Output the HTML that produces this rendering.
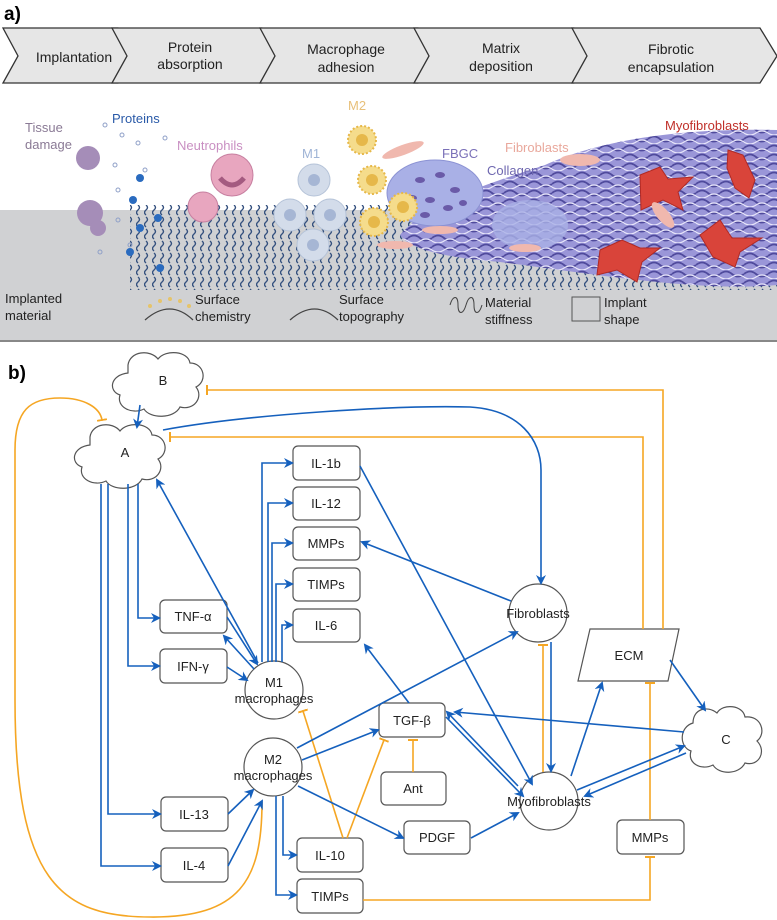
<!DOCTYPE html>
<html><head><meta charset="utf-8"><style>
html,body{margin:0;padding:0;background:#fff;}
svg{display:block;font-family:"Liberation Sans",sans-serif;}
</style></head><body>
<svg width="777" height="920" viewBox="0 0 777 920" xmlns="http://www.w3.org/2000/svg">
<defs>
<marker id="ab" markerWidth="10" markerHeight="10" refX="8" refY="5" orient="auto" markerUnits="userSpaceOnUse"><path d="M0,0 L10,5 L0,10 L3,5 z" fill="#1560bd"/></marker>
<marker id="bar" markerWidth="2" markerHeight="10" refX="1" refY="5" orient="auto" markerUnits="userSpaceOnUse"><rect x="0" y="0" width="2" height="10" fill="#f5a623"/></marker>
<pattern id="sq" width="8" height="12" patternUnits="userSpaceOnUse"><path d="M2,1 q3,2.5 0,5 q-3,2.5 0,5" stroke="#34507e" stroke-width="1.4" fill="none"/></pattern>
<pattern id="fib" width="24" height="9" patternUnits="userSpaceOnUse"><path d="M0,4 q6,-5 12,0 t12,0" stroke="#4f4a9c" stroke-width="1.8" fill="none"/><path d="M0,7 q6,4 12,0 t12,0" stroke="#e8e6fa" stroke-width="1.2" fill="none"/></pattern>
</defs>

<!-- PART A -->
<text x="4" y="20" font-size="19" font-weight="bold">a)</text>
<g fill="#e6e6e6" stroke="#333" stroke-width="1.3">
<polygon points="3,28 118,28 133,56 118,83 3,83 18,56"/>
<polygon points="112,28 262,28 280,56 262,83 112,83 127,56"/>
<polygon points="260,28 418,28 435,56 418,83 260,83 275,56"/>
<polygon points="414,28 574,28 592,56 574,83 414,83 429,56"/>
<polygon points="572,28 760,28 777,56 760,83 572,83 587,56"/>
</g>
<g font-size="14" fill="#222" text-anchor="middle">
<text x="74" y="62">Implantation</text>
<text x="190" y="52">Protein</text><text x="190" y="69">absorption</text>
<text x="346" y="54">Macrophage</text><text x="346" y="72">adhesion</text>
<text x="501" y="53">Matrix</text><text x="501" y="71">deposition</text>
<text x="671" y="54">Fibrotic</text><text x="671" y="72">encapsulation</text>
</g>
<rect x="0" y="210" width="777" height="131" fill="#d0d1d3"/>
<rect x="0" y="340" width="777" height="2" fill="#888"/>
<rect x="130" y="205" width="647" height="85" fill="url(#sq)"/>
<path d="M400,235 C430,200 500,180 545,165 C600,140 680,128 777,130 L777,285 C700,292 600,275 500,262 C450,258 410,250 400,235 z" fill="#9a96d8"/>
<path d="M400,235 C430,200 500,180 545,165 C600,140 680,128 777,130 L777,285 C700,292 600,275 500,262 C450,258 410,250 400,235 z" fill="url(#fib)"/>
<ellipse cx="435" cy="193" rx="48" ry="33" fill="#a9b0e6" stroke="#8c93d4"/>
<g fill="#6a5aa8"><ellipse cx="420" cy="180" rx="5" ry="3"/><ellipse cx="440" cy="175" rx="5" ry="3"/><ellipse cx="455" cy="190" rx="5" ry="3"/><ellipse cx="430" cy="200" rx="5" ry="3"/><ellipse cx="448" cy="208" rx="5" ry="3"/><ellipse cx="412" cy="198" rx="5" ry="3"/><ellipse cx="425" cy="215" rx="5" ry="3"/><ellipse cx="463" cy="203" rx="4" ry="3"/></g>
<ellipse cx="530" cy="225" rx="38" ry="25" fill="#a9b0e6" opacity="0.8"/>
<g fill="#d9443a" stroke="#b02a25">
<path d="M640,175 l20,-8 l8,12 l25,-2 l-15,15 l5,18 l-20,-10 l-22,10 z"/>
<path d="M728,150 l15,5 l12,25 l-6,18 l-14,-10 l-8,-20 z"/>
<path d="M600,250 l22,-10 l18,8 l20,0 l-18,14 l-5,20 l-20,-12 l-20,5 z"/>
<path d="M700,235 l20,-15 l12,18 l30,0 l-22,14 l-5,15 l-22,-10 z"/>
</g>
<g fill="#f0b8ae"><ellipse cx="403" cy="150" rx="22" ry="5" transform="rotate(-20 403 150)"/><ellipse cx="580" cy="160" rx="20" ry="6"/><ellipse cx="663" cy="215" rx="16" ry="6" transform="rotate(50 663 215)"/><ellipse cx="395" cy="245" rx="18" ry="4"/><ellipse cx="525" cy="248" rx="16" ry="4"/><ellipse cx="440" cy="230" rx="18" ry="4"/></g>
<g fill="#f5dc8c" stroke="#e6b84a" stroke-width="2" stroke-dasharray="2 2">
<circle cx="362" cy="140" r="14"/><circle cx="372" cy="180" r="14"/><circle cx="374" cy="222" r="14"/><circle cx="403" cy="207" r="14"/>
</g>
<g fill="#e6b84a"><circle cx="362" cy="140" r="6"/><circle cx="372" cy="180" r="6"/><circle cx="374" cy="222" r="6"/><circle cx="403" cy="207" r="6"/></g>
<g fill="#d3dcea" stroke="#b5c3d8"><circle cx="314" cy="180" r="16"/><circle cx="290" cy="215" r="16"/><circle cx="330" cy="215" r="16"/><circle cx="313" cy="245" r="16"/></g>
<g fill="#a6b6d4"><circle cx="314" cy="180" r="6"/><circle cx="290" cy="215" r="6"/><circle cx="330" cy="215" r="6"/><circle cx="313" cy="245" r="6"/></g>
<circle cx="232" cy="175" r="21" fill="#e8a6bf" stroke="#c77fa0"/><circle cx="203" cy="207" r="15" fill="#e8a6bf" stroke="#c77fa0"/>
<path d="M220,178 q12,14 24,0" stroke="#a45a80" stroke-width="5" fill="none"/>
<g fill="#a58db8"><circle cx="88" cy="158" r="12"/><circle cx="90" cy="213" r="13"/><circle cx="98" cy="228" r="8"/></g>
<g fill="none" stroke="#8fa0c8"><circle cx="105" cy="125" r="2"/><circle cx="122" cy="135" r="2"/><circle cx="138" cy="143" r="2"/><circle cx="115" cy="165" r="2"/><circle cx="118" cy="190" r="2"/><circle cx="145" cy="170" r="2"/><circle cx="165" cy="138" r="2"/><circle cx="118" cy="220" r="2"/><circle cx="100" cy="252" r="2"/><circle cx="130" cy="245" r="2"/></g>
<g fill="#2a6bbf"><circle cx="140" cy="178" r="4"/><circle cx="133" cy="200" r="4"/><circle cx="158" cy="218" r="4"/><circle cx="140" cy="228" r="4"/><circle cx="130" cy="252" r="4"/><circle cx="160" cy="268" r="4"/></g>
<g font-size="13">
<text x="25" y="132" fill="#8a7a95">Tissue</text><text x="25" y="149" fill="#8a7a95">damage</text>
<text x="112" y="123" fill="#2a5aa8">Proteins</text>
<text x="177" y="150" fill="#c98fc2">Neutrophils</text>
<text x="302" y="158" fill="#9fb4d6">M1</text>
<text x="348" y="110" fill="#e8c07a">M2</text>
<text x="442" y="158" fill="#7a70b8">FBGC</text>
<text x="505" y="152" fill="#e9a89c">Fibroblasts</text>
<text x="487" y="175" fill="#6f68b0">Collagen</text>
<text x="665" y="130" fill="#c0302a">Myofibroblasts</text>
<g fill="#222"><text x="5" y="303">Implanted</text><text x="5" y="320">material</text>
<text x="195" y="304">Surface</text><text x="195" y="321">chemistry</text>
<text x="339" y="304">Surface</text><text x="339" y="321">topography</text>
<text x="485" y="307">Material</text><text x="485" y="324">stiffness</text>
<text x="604" y="307">Implant</text><text x="604" y="324">shape</text></g>
</g>
<path d="M145,320 q25,-22 48,0" stroke="#444" fill="none" stroke-width="1.3"/>
<g fill="#e6c46a"><circle cx="150" cy="306" r="2"/><circle cx="160" cy="301" r="2"/><circle cx="170" cy="299" r="2"/><circle cx="180" cy="301" r="2"/><circle cx="189" cy="306" r="2"/></g>
<path d="M290,320 q25,-22 48,0" stroke="#444" fill="none" stroke-width="1.3"/>
<path d="M450,305 c3,-10 8,-10 8,0 c0,10 5,10 8,0 c3,-10 8,-10 8,0 c0,10 5,10 8,0" stroke="#444" fill="none"/>
<rect x="572" y="297" width="28" height="24" fill="none" stroke="#555"/>

<!-- PART B -->
<text x="8" y="379" font-size="19" font-weight="bold">b)</text>
<g fill="#fff" stroke="#555" stroke-width="1.2">
<path d="M128,365 c2,-14 22,-16 30,-6 c8,-10 30,-8 32,4 c14,0 18,18 6,24 c8,10 -2,24 -16,20 c-6,12 -30,12 -36,2 c-12,6 -28,-2 -24,-14 c-12,-4 -10,-20 8,-22 z"/>
<path d="M90,437 c2,-14 22,-16 30,-6 c8,-10 30,-8 32,4 c14,0 18,18 6,24 c8,10 -2,24 -16,20 c-6,12 -30,12 -36,2 c-12,6 -28,-2 -24,-14 c-12,-4 -10,-20 8,-22 z"/>
<path d="M693,723 c0,-14 14,-18 24,-10 c6,-10 26,-8 28,4 c16,-2 22,16 12,24 c10,10 2,26 -12,22 c-6,12 -26,12 -32,2 c-12,6 -26,-2 -22,-14 c-12,-4 -12,-24 2,-28 z"/>
</g>
<g font-size="13" text-anchor="middle" fill="#222">
<text x="163" y="385">B</text><text x="125" y="457">A</text><text x="726" y="744">C</text>
</g>
<g fill="#fff" stroke="#555" stroke-width="1.2">
<rect x="293" y="446" width="67" height="34" rx="5"/>
<rect x="293" y="487" width="67" height="33" rx="5"/>
<rect x="293" y="527" width="67" height="33" rx="5"/>
<rect x="293" y="568" width="67" height="33" rx="5"/>
<rect x="293" y="609" width="67" height="33" rx="5"/>
<rect x="160" y="600" width="67" height="33" rx="5"/>
<rect x="160" y="649" width="67" height="34" rx="5"/>
<rect x="161" y="797" width="67" height="34" rx="5"/>
<rect x="161" y="848" width="67" height="34" rx="5"/>
<rect x="297" y="838" width="66" height="34" rx="5"/>
<rect x="297" y="879" width="66" height="34" rx="5"/>
<rect x="379" y="703" width="66" height="34" rx="5"/>
<rect x="381" y="772" width="65" height="33" rx="5"/>
<rect x="404" y="821" width="66" height="33" rx="5"/>
<rect x="617" y="820" width="67" height="34" rx="5"/>
<polygon points="590,629 679,629 668,681 578,681"/>
<circle cx="274" cy="690" r="29"/>
<circle cx="273" cy="767" r="29"/>
<circle cx="538" cy="613" r="29"/>
<circle cx="549" cy="801" r="29"/>
</g>
<g font-size="13" text-anchor="middle" fill="#222">
<text x="326" y="468">IL-1b</text><text x="326" y="508">IL-12</text><text x="326" y="548">MMPs</text><text x="326" y="589">TIMPs</text><text x="326" y="630">IL-6</text>
<text x="193" y="621">TNF-α</text><text x="193" y="671">IFN-γ</text>
<text x="194" y="819">IL-13</text><text x="194" y="870">IL-4</text>
<text x="330" y="860">IL-10</text><text x="330" y="901">TIMPs</text>
<text x="412" y="725">TGF-β</text><text x="413" y="793">Ant</text><text x="437" y="842">PDGF</text>
<text x="650" y="842">MMPs</text><text x="629" y="660">ECM</text>
<text x="274" y="687">M1</text><text x="274" y="703">macrophages</text>
<text x="273" y="764">M2</text><text x="273" y="780">macrophages</text>
<text x="538" y="618">Fibroblasts</text><text x="549" y="806">Myofibroblasts</text>
</g>

<g stroke="#f5a623" stroke-width="1.6" fill="none" marker-end="url(#bar)">
<path d="M262,802 C262,880 240,918 150,917 C60,917 15,880 15,700 L15,450 C15,410 30,398 60,398 C85,398 100,408 102,420"/>
<path d="M643,629 L643,437 L170,437"/>
<path d="M663,629 L663,390 L207,390"/>
<path d="M343,838 L303,711"/>
<path d="M347,838 L384,740"/>
<path d="M413,772 L413,740"/>
<path d="M543,772 L543,645"/>
<path d="M650,820 L650,683"/>
<path d="M363,900 L650,900 L650,857"/>
</g>
<g stroke="#1560bd" stroke-width="1.6" fill="none" marker-end="url(#ab)">
<path d="M140,405 L137,427"/>
<path d="M163,430 C250,414 400,405 470,407 C520,410 541,440 541,470 L541,583"/>
<path d="M138,484 L138,618 L159,618"/>
<path d="M128,484 L128,666 L159,666"/>
<path d="M108,484 L108,814 L160,814"/>
<path d="M101,484 L101,866 L160,866"/>
<path d="M258,663 L157,480"/>
<path d="M262,662 L262,463 L292,463"/>
<path d="M268,662 L268,503 L292,503"/>
<path d="M272,662 L272,543 L292,543"/>
<path d="M276,662 L276,584 L292,584"/>
<path d="M282,662 L282,625 L292,625"/>
<path d="M227,617 L257,664"/>
<path d="M254,669 L224,636"/>
<path d="M227,667 L247,680"/>
<path d="M228,814 L253,790"/>
<path d="M228,866 L262,801"/>
<path d="M283,796 L283,855 L296,855"/>
<path d="M276,796 L276,895 L296,895"/>
<path d="M302,760 L378,730"/>
<path d="M297,748 L517,632"/>
<path d="M298,786 L403,838"/>
<path d="M409,703 L365,645"/>
<path d="M446,717 L523,796"/>
<path d="M518,786 L447,712"/>
<path d="M684,732 L455,712"/>
<path d="M471,838 L518,813"/>
<path d="M360,466 L532,784"/>
<path d="M511,601 L362,542"/>
<path d="M551,642 L551,771"/>
<path d="M571,776 L602,683"/>
<path d="M670,660 L705,710"/>
<path d="M577,790 L684,746"/>
<path d="M686,753 L585,796"/>
</g>
</svg>
</body></html>
